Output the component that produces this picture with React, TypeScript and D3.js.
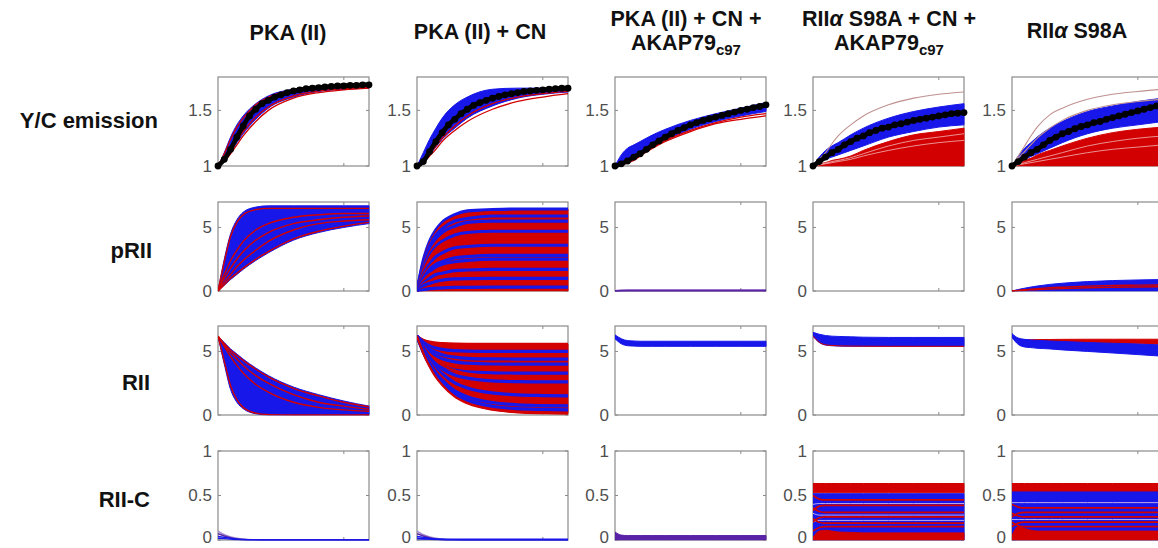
import React from "react";
import * as d3 from "d3";

// ---------- shared time grids ----------
const TIME = [0, 50, 100, 150, 200, 300, 400, 600, 800, 1000, 1200];
const DOT_TIME = [0, 50, 100, 150, 200, 250, 300, 350, 400, 450, 500, 550, 600, 650, 700, 750, 800, 850, 900, 950, 1000, 1050, 1100, 1150, 1200];
const ZEROS = [0, 0, 0, 0, 0, 0, 0, 0, 0, 0, 0];
const ONES = [1, 1, 1, 1, 1, 1, 1, 1, 1, 1, 1];

const COLUMN_TITLES = [["PKA (II)"], ["PKA (II) + CN"], ["PKA (II) + CN +", "AKAP79|c97"], ["RIIα S98A + CN +", "AKAP79|c97"], ["RIIα S98A"]];
const ROW_TITLES = ["Y/C emission", "pRII", "RII", "RII-C"];
const Y_DOMAINS = [[1, 1.8], [0, 7], [0, 7], [0, 1]];
const Y_TICKS = [[1, 1.5], [0, 5], [0, 5], [0, 0.5, 1]];
const X_DOMAIN = [0, 1200];
const X_TICKS = [1000];

// ---------- Row 1: Y/C emission ----------
const ycDotsPka = [1.0, 1.06, 1.15, 1.26, 1.36, 1.45, 1.51, 1.56, 1.59, 1.62, 1.64, 1.66, 1.675, 1.685, 1.695, 1.7, 1.705, 1.71, 1.715, 1.72, 1.72, 1.725, 1.725, 1.73, 1.73];
const ycDotsCn = [1.0, 1.04, 1.13, 1.22, 1.3, 1.37, 1.42, 1.47, 1.51, 1.545, 1.57, 1.59, 1.61, 1.625, 1.64, 1.65, 1.66, 1.67, 1.675, 1.68, 1.685, 1.69, 1.695, 1.7, 1.7];
const ycDotsAkap = [1.0, 1.02, 1.045, 1.08, 1.11, 1.15, 1.19, 1.225, 1.26, 1.29, 1.32, 1.345, 1.37, 1.39, 1.41, 1.425, 1.44, 1.455, 1.47, 1.485, 1.5, 1.51, 1.525, 1.535, 1.55];
const ycDotsMutAkap = [1.0, 1.04, 1.08, 1.12, 1.15, 1.19, 1.22, 1.25, 1.27, 1.3, 1.32, 1.34, 1.35, 1.37, 1.38, 1.395, 1.41, 1.42, 1.43, 1.44, 1.45, 1.46, 1.47, 1.475, 1.48];
const ycDotsMut = [1.0, 1.04, 1.08, 1.12, 1.15, 1.19, 1.23, 1.26, 1.29, 1.31, 1.335, 1.355, 1.37, 1.39, 1.4, 1.42, 1.435, 1.45, 1.465, 1.48, 1.495, 1.51, 1.525, 1.54, 1.55];

const ycPkaBandHi = [1, 1.12, 1.26, 1.37, 1.45, 1.56, 1.63, 1.69, 1.71, 1.72, 1.72];
const ycPkaBandLo = [1, 1.05, 1.12, 1.21, 1.29, 1.42, 1.52, 1.62, 1.67, 1.69, 1.7];
const ycPkaRed = [
  [1, 1.04, 1.11, 1.19, 1.27, 1.4, 1.5, 1.61, 1.66, 1.685, 1.7],
  [1, 1.06, 1.14, 1.23, 1.31, 1.44, 1.53, 1.63, 1.675, 1.695, 1.705],
  [1, 1.11, 1.24, 1.35, 1.43, 1.55, 1.62, 1.685, 1.705, 1.715, 1.72],
];

const ycCnBandHi = [1, 1.12, 1.24, 1.34, 1.43, 1.55, 1.62, 1.69, 1.7, 1.7, 1.71];
const ycCnBandLo = [1, 1.04, 1.1, 1.17, 1.24, 1.34, 1.43, 1.54, 1.61, 1.645, 1.665];
const ycCnRed = [
  [1, 1.03, 1.09, 1.15, 1.22, 1.32, 1.4, 1.51, 1.58, 1.62, 1.65],
  [1, 1.04, 1.11, 1.18, 1.25, 1.36, 1.45, 1.56, 1.62, 1.65, 1.67],
  [1, 1.06, 1.14, 1.22, 1.3, 1.42, 1.51, 1.61, 1.66, 1.68, 1.69],
];

const ycAkapBandHi = [1, 1.1, 1.16, 1.19, 1.22, 1.28, 1.33, 1.41, 1.47, 1.52, 1.57];
const ycAkapBandLo = [1, 1.02, 1.04, 1.07, 1.1, 1.17, 1.23, 1.33, 1.4, 1.45, 1.49];
const ycAkapRed = [
  [1, 1.01, 1.03, 1.05, 1.09, 1.16, 1.22, 1.31, 1.38, 1.42, 1.45],
  [1, 1.02, 1.04, 1.07, 1.1, 1.17, 1.23, 1.32, 1.39, 1.44, 1.47],
];

const ycMutAkapRedTop = [1, 1.02, 1.03, 1.05, 1.06, 1.09, 1.14, 1.22, 1.28, 1.31, 1.34];
const ycMutAkapBandHi = [1, 1.08, 1.14, 1.18, 1.21, 1.28, 1.34, 1.43, 1.49, 1.53, 1.56];
const ycMutAkapBandLo = [1, 1.03, 1.06, 1.08, 1.1, 1.14, 1.18, 1.26, 1.31, 1.35, 1.37];
const ycMutAkapOutliers = [[1, 1.06, 1.12, 1.2, 1.27, 1.37, 1.45, 1.55, 1.61, 1.645, 1.665]];
const ycMutAkapStreaks = [
  [1, 1.015, 1.025, 1.04, 1.05, 1.075, 1.11, 1.18, 1.23, 1.26, 1.29],
  [1, 1.01, 1.02, 1.03, 1.04, 1.06, 1.09, 1.14, 1.18, 1.21, 1.23],
];

const ycMutRedTop = [1, 1.02, 1.05, 1.07, 1.1, 1.14, 1.18, 1.25, 1.3, 1.33, 1.35];
const ycMutBandHi = [1, 1.09, 1.16, 1.21, 1.26, 1.34, 1.4, 1.49, 1.54, 1.58, 1.61];
const ycMutBandLo = [1, 1.03, 1.06, 1.085, 1.11, 1.16, 1.21, 1.29, 1.34, 1.37, 1.4];
const ycMutOutliers = [
  [1, 1.09, 1.18, 1.27, 1.35, 1.46, 1.52, 1.6, 1.645, 1.67, 1.69],
  [1, 1.07, 1.13, 1.19, 1.25, 1.34, 1.41, 1.5, 1.55, 1.58, 1.6],
];
const ycMutStreaks = [
  [1, 1.015, 1.03, 1.045, 1.06, 1.09, 1.12, 1.18, 1.22, 1.25, 1.27],
  [1, 1.01, 1.02, 1.03, 1.04, 1.06, 1.08, 1.12, 1.15, 1.17, 1.19],
];

// ---------- Row 2: pRII ----------
const prPkaBandHi = [0, 2.5, 4.5, 5.6, 6.2, 6.6, 6.7, 6.7, 6.7, 6.7, 6.7];
const prPkaBandLo = [0, 0.45, 0.9, 1.3, 1.7, 2.4, 3.0, 4.0, 4.6, 5.0, 5.3];
const prPkaRed = [
  [0, 0.5, 1.0, 1.4, 1.8, 2.5, 3.1, 4.1, 4.7, 5.1, 5.4],
  [0, 0.7, 1.3, 1.9, 2.4, 3.2, 3.9, 4.8, 5.3, 5.5, 5.6],
  [0, 1.0, 1.8, 2.5, 3.1, 4.0, 4.6, 5.3, 5.6, 5.8, 5.9],
  [0, 1.3, 2.4, 3.2, 3.9, 4.8, 5.3, 5.8, 6.0, 6.1, 6.1],
  [0, 2.3, 4.3, 5.4, 6.0, 6.4, 6.5, 6.5, 6.5, 6.5, 6.5],
];

const prCnKinds = ["b", "r", "b", "b", "r", "b", "r", "r", "b", "r", "b", "b", "r", "b", "r", "b", "r", "b"];
const prCnTraces = [
  [0, 2.4, 3.9, 4.8, 5.4, 6.0, 6.3, 6.4, 6.45, 6.45, 6.45],
  [0, 2.3, 3.7, 4.6, 5.2, 5.8, 6.0, 6.2, 6.2, 6.2, 6.2],
  [0, 2.2, 3.5, 4.4, 4.9, 5.5, 5.7, 5.9, 5.9, 5.9, 5.9],
  [0, 2.0, 3.3, 4.1, 4.6, 5.1, 5.4, 5.5, 5.5, 5.5, 5.5],
  [0, 1.9, 3.0, 3.8, 4.3, 4.8, 5.0, 5.1, 5.1, 5.1, 5.1],
  [0, 1.7, 2.8, 3.5, 3.9, 4.4, 4.6, 4.7, 4.7, 4.7, 4.7],
  [0, 1.6, 2.6, 3.3, 3.7, 4.1, 4.3, 4.4, 4.4, 4.4, 4.4],
  [0, 1.5, 2.4, 3.0, 3.4, 3.7, 3.9, 4.0, 4.0, 4.0, 4.0],
  [0, 1.3, 2.1, 2.7, 3.0, 3.4, 3.5, 3.6, 3.6, 3.6, 3.6],
  [0, 1.2, 1.9, 2.4, 2.7, 3.0, 3.1, 3.2, 3.2, 3.2, 3.2],
  [0, 1.0, 1.7, 2.1, 2.3, 2.6, 2.7, 2.8, 2.8, 2.8, 2.8],
  [0, 0.9, 1.5, 1.9, 2.1, 2.3, 2.4, 2.5, 2.5, 2.5, 2.5],
  [0, 0.8, 1.3, 1.6, 1.8, 2.0, 2.05, 2.1, 2.1, 2.1, 2.1],
  [0, 0.6, 1.0, 1.3, 1.4, 1.6, 1.65, 1.7, 1.7, 1.7, 1.7],
  [0, 0.5, 0.8, 1.0, 1.1, 1.2, 1.25, 1.3, 1.3, 1.3, 1.3],
  [0, 0.4, 0.6, 0.75, 0.85, 0.95, 0.98, 1.0, 1.0, 1.0, 1.0],
  [0, 0.2, 0.35, 0.45, 0.5, 0.56, 0.58, 0.6, 0.6, 0.6, 0.6],
  [0, 0.1, 0.18, 0.22, 0.25, 0.28, 0.29, 0.3, 0.3, 0.3, 0.3],
];

const prAkapTraces = [
  [0, 0.02, 0.03, 0.03, 0.03, 0.03, 0.03, 0.03, 0.03, 0.03, 0.03],
  [0, 0.01, 0.015, 0.015, 0.015, 0.015, 0.015, 0.015, 0.015, 0.015, 0.015],
];

const prMutBandHi = [0, 0.12, 0.22, 0.31, 0.39, 0.52, 0.61, 0.74, 0.82, 0.87, 0.9];
const prMutRed = [
  [0, 0.05, 0.1, 0.14, 0.18, 0.25, 0.3, 0.38, 0.43, 0.46, 0.48],
  [0, 0.03, 0.06, 0.09, 0.11, 0.15, 0.19, 0.25, 0.29, 0.32, 0.34],
];

// ---------- Row 3: RII ----------
const riiPkaBandHi = [6.2, 5.7, 5.2, 4.8, 4.4, 3.7, 3.1, 2.2, 1.6, 1.1, 0.7];
const riiPkaBandLo = [6.2, 4.0, 2.0, 1.0, 0.5, 0.1, 0, 0, 0, 0, 0];
const riiPkaRed = [
  [6.2, 5.6, 5.1, 4.7, 4.3, 3.6, 3.0, 2.1, 1.5, 1.0, 0.65],
  [6.2, 5.5, 4.9, 4.4, 3.9, 3.1, 2.5, 1.6, 1.0, 0.7, 0.45],
  [6.2, 5.4, 4.6, 3.9, 3.3, 2.4, 1.8, 1.0, 0.6, 0.4, 0.3],
  [6.2, 4.2, 2.3, 1.2, 0.6, 0.15, 0.03, 0, 0, 0, 0],
];

const riiCnKinds = ["r", "r", "b", "r", "b", "b", "r", "b", "r", "b", "r", "r", "b", "r", "b", "b", "r"];
const riiCnTraces = [
  [6.2, 5.92, 5.77, 5.69, 5.65, 5.61, 5.6, 5.6, 5.6, 5.6, 5.6],
  [6.2, 5.78, 5.56, 5.44, 5.37, 5.32, 5.31, 5.3, 5.3, 5.3, 5.3],
  [6.2, 5.73, 5.44, 5.26, 5.16, 5.06, 5.02, 5.0, 5.0, 5.0, 5.0],
  [6.2, 5.62, 5.26, 5.03, 4.9, 4.78, 4.73, 4.7, 4.7, 4.7, 4.7],
  [6.2, 5.59, 5.18, 4.92, 4.74, 4.55, 4.46, 4.41, 4.4, 4.4, 4.4],
  [6.2, 5.45, 4.96, 4.63, 4.42, 4.18, 4.08, 4.01, 4.0, 4.0, 4.0],
  [6.2, 5.35, 4.79, 4.42, 4.17, 3.91, 3.79, 3.72, 3.7, 3.7, 3.7],
  [6.2, 5.21, 4.56, 4.13, 3.85, 3.54, 3.4, 3.32, 3.3, 3.3, 3.3],
  [6.2, 5.34, 4.71, 4.25, 3.92, 3.49, 3.26, 3.08, 3.02, 3.0, 3.0],
  [6.2, 5.23, 4.53, 4.0, 3.63, 3.15, 2.9, 2.68, 2.62, 2.6, 2.6],
  [6.2, 5.12, 4.34, 3.76, 3.35, 2.81, 2.53, 2.29, 2.23, 2.21, 2.2],
  [6.2, 5.04, 4.2, 3.58, 3.13, 2.56, 2.25, 2.0, 1.93, 1.91, 1.9],
  [6.2, 5.17, 4.37, 3.71, 3.24, 2.53, 2.13, 1.74, 1.58, 1.53, 1.51],
  [6.2, 5.08, 4.21, 3.5, 2.99, 2.22, 1.79, 1.36, 1.19, 1.14, 1.11],
  [6.2, 4.99, 4.06, 3.29, 2.74, 1.91, 1.44, 0.98, 0.8, 0.74, 0.71],
  [6.2, 4.92, 3.94, 3.13, 2.55, 1.68, 1.18, 0.69, 0.5, 0.44, 0.41],
  [6.2, 4.86, 3.82, 2.97, 2.36, 1.44, 0.92, 0.41, 0.21, 0.14, 0.11],
];

const riiAkapBandHi = [6.3, 6.0, 5.85, 5.82, 5.8, 5.8, 5.8, 5.8, 5.8, 5.8, 5.8];
const riiAkapBandLo = [6.0, 5.6, 5.45, 5.42, 5.4, 5.4, 5.4, 5.4, 5.4, 5.4, 5.4];

const riiMutAkapBandHi = [6.5, 6.35, 6.25, 6.2, 6.18, 6.15, 6.12, 6.1, 6.1, 6.1, 6.1];
const riiMutAkapBandLo = [6.2, 5.7, 5.5, 5.45, 5.42, 5.4, 5.4, 5.4, 5.4, 5.4, 5.4];
const riiMutAkapRed = [[6.2, 5.72, 5.52, 5.47, 5.44, 5.42, 5.41, 5.4, 5.4, 5.4, 5.4]];

const riiMutRedHi = [6.3, 5.95, 5.92, 5.92, 5.93, 5.94, 5.95, 5.96, 5.96, 5.96, 5.96];
const riiMutRedLo = [6.2, 5.85, 5.8, 5.78, 5.76, 5.74, 5.72, 5.68, 5.64, 5.6, 5.55];
const riiMutBandHi = [6.4, 6.05, 5.95, 5.9, 5.87, 5.82, 5.78, 5.7, 5.64, 5.58, 5.5];
const riiMutBandLo = [6.1, 5.55, 5.35, 5.3, 5.25, 5.2, 5.12, 5.0, 4.88, 4.75, 4.62];

// ---------- Row 4: RII-C ----------
const rcPkaKinds = ["l", "p", "b", "b"];
const rcPkaTraces = [
  [0.1, 0.06, 0.035, 0.02, 0.01, 0.003, 0, 0, 0, 0, 0],
  [0.07, 0.045, 0.025, 0.012, 0.006, 0.002, 0, 0, 0, 0, 0],
  [0.04, 0.03, 0.018, 0.01, 0.005, 0.001, 0, 0, 0, 0, 0],
  [0.02, 0.015, 0.01, 0.005, 0.002, 0, 0, 0, 0, 0, 0],
];
const rcCnKinds = ["l", "p", "b", "b", "b"];
const rcCnTraces = [
  [0.1, 0.06, 0.035, 0.02, 0.01, 0.003, 0, 0, 0, 0, 0],
  [0.07, 0.045, 0.025, 0.012, 0.006, 0.002, 0, 0, 0, 0, 0],
  [0.04, 0.03, 0.018, 0.01, 0.005, 0.001, 0, 0, 0, 0, 0],
  [0.02, 0.015, 0.01, 0.005, 0.002, 0, 0, 0, 0, 0, 0],
  [0.015, 0.012, 0.01, 0.01, 0.01, 0.01, 0.01, 0.01, 0.01, 0.01, 0.01],
];
const rcAkapBandHi = [0.09, 0.055, 0.05, 0.05, 0.05, 0.05, 0.05, 0.05, 0.05, 0.05, 0.05];

const rcMutAkapRedHi = [0.635, 0.635, 0.635, 0.635, 0.635, 0.635, 0.635, 0.635, 0.635, 0.635, 0.635];
const rcMutAkapRedLo = [0.53, 0.53, 0.53, 0.53, 0.53, 0.53, 0.53, 0.53, 0.53, 0.53, 0.53];
const rcMutAkapBlueHi = [0.52, 0.52, 0.52, 0.52, 0.52, 0.52, 0.52, 0.52, 0.52, 0.52, 0.52];
const rcMutAkapFloor = [0.03, 0.1, 0.11, 0.1, 0.09, 0.085, 0.08, 0.08, 0.08, 0.08, 0.08];
const rcMutAkapRed = [
  [0.5, 0.46, 0.45, 0.45, 0.45, 0.45, 0.45, 0.45, 0.45, 0.45, 0.45],
  [0.33, 0.38, 0.39, 0.39, 0.39, 0.39, 0.39, 0.39, 0.39, 0.39, 0.39],
  [0.36, 0.32, 0.31, 0.31, 0.31, 0.31, 0.31, 0.31, 0.31, 0.31, 0.31],
  [0.2, 0.25, 0.26, 0.26, 0.26, 0.26, 0.26, 0.26, 0.26, 0.26, 0.26],
  [0.24, 0.2, 0.19, 0.19, 0.19, 0.19, 0.19, 0.19, 0.19, 0.19, 0.19],
  [0.1, 0.14, 0.15, 0.15, 0.15, 0.15, 0.15, 0.15, 0.15, 0.15, 0.15],
];
const rcMutAkapStreaks = [
  [0.3, 0.28, 0.28, 0.28, 0.28, 0.28, 0.28, 0.28, 0.28, 0.28, 0.28],
  [0.2, 0.22, 0.22, 0.22, 0.22, 0.22, 0.22, 0.22, 0.22, 0.22, 0.22],
  [0.4, 0.41, 0.41, 0.41, 0.41, 0.41, 0.41, 0.41, 0.41, 0.41, 0.41],
];

const rcMutRedHi = [0.635, 0.635, 0.635, 0.635, 0.635, 0.635, 0.635, 0.635, 0.635, 0.635, 0.635];
const rcMutRedLo = [0.54, 0.54, 0.54, 0.54, 0.54, 0.54, 0.54, 0.54, 0.54, 0.54, 0.54];
const rcMutBlueHi = [0.54, 0.54, 0.54, 0.54, 0.54, 0.54, 0.54, 0.54, 0.54, 0.54, 0.54];
const rcMutFloor = [0.05, 0.15, 0.13, 0.11, 0.1, 0.1, 0.1, 0.1, 0.1, 0.1, 0.1];
const rcMutRed = [
  [0.4, 0.37, 0.36, 0.36, 0.36, 0.36, 0.36, 0.36, 0.36, 0.36, 0.36],
  [0.26, 0.3, 0.31, 0.31, 0.31, 0.31, 0.31, 0.31, 0.31, 0.31, 0.31],
  [0.3, 0.27, 0.26, 0.26, 0.26, 0.26, 0.26, 0.26, 0.26, 0.26, 0.26],
  [0.15, 0.19, 0.2, 0.2, 0.2, 0.2, 0.2, 0.2, 0.2, 0.2, 0.2],
  [0.2, 0.16, 0.15, 0.15, 0.15, 0.15, 0.15, 0.15, 0.15, 0.15, 0.15],
];
const rcMutStreaks = [
  [0.42, 0.42, 0.42, 0.42, 0.42, 0.42, 0.42, 0.42, 0.42, 0.42, 0.42],
  [0.23, 0.23, 0.23, 0.23, 0.23, 0.23, 0.23, 0.23, 0.23, 0.23, 0.23],
];

// ---------- styling & layout ----------
const COLORS: Record<string, string> = {
  r: "#d20000",
  b: "#1717ea",
  p: "#5a22a6",
  l: "#a08ccc",
  n: "#c09090",
  s: "#f2b8b8",
  v: "#b9a8ee",
};
const AXIS = "#8a8a8a";
const COL_X = [218, 417, 615, 813, 1012];
const ROW_Y = [77, 202, 326, 451];
const PANEL_W = 151;
const PANEL_H = 89;
const SVG_W = 1158;
const SVG_H = 548;

type Band = { c: string; lo: number[]; hi: number[] };
type Trace = { c: string; v: number[]; w: number };
type Panel = { row: number; col: number; bands: Band[]; traces: Trace[]; dots?: number[] };

const tr = (c: string, list: number[][], w: number): Trace[] => list.map((v) => ({ c, v, w }));
const trKinds = (kinds: string[], list: number[][], wb: number, wr: number): Trace[] =>
  list.map((v, i) => ({ c: kinds[i], v, w: kinds[i] === "b" ? wb : wr }));

const PANELS: Panel[] = [
  { row: 0, col: 0, bands: [{ c: "b", lo: ycPkaBandLo, hi: ycPkaBandHi }], traces: tr("r", ycPkaRed, 1.3), dots: ycDotsPka },
  { row: 0, col: 1, bands: [{ c: "b", lo: ycCnBandLo, hi: ycCnBandHi }], traces: tr("r", ycCnRed, 1.3), dots: ycDotsCn },
  { row: 0, col: 2, bands: [{ c: "b", lo: ycAkapBandLo, hi: ycAkapBandHi }], traces: tr("r", ycAkapRed, 1.3), dots: ycDotsAkap },
  {
    row: 0, col: 3,
    bands: [{ c: "r", lo: ONES, hi: ycMutAkapRedTop }, { c: "b", lo: ycMutAkapBandLo, hi: ycMutAkapBandHi }],
    traces: [...tr("s", ycMutAkapStreaks, 0.8), ...tr("n", ycMutAkapOutliers, 1.1)],
    dots: ycDotsMutAkap,
  },
  {
    row: 0, col: 4,
    bands: [{ c: "r", lo: ONES, hi: ycMutRedTop }, { c: "b", lo: ycMutBandLo, hi: ycMutBandHi }],
    traces: [...tr("s", ycMutStreaks, 0.8), ...tr("n", ycMutOutliers, 1.1)],
    dots: ycDotsMut,
  },
  { row: 1, col: 0, bands: [{ c: "b", lo: prPkaBandLo, hi: prPkaBandHi }], traces: tr("r", prPkaRed, 1.4) },
  { row: 1, col: 1, bands: [{ c: "r", lo: ZEROS, hi: prCnTraces[0] }], traces: trKinds(prCnKinds, prCnTraces, 3.2, 2.2) },
  { row: 1, col: 2, bands: [], traces: tr("p", prAkapTraces, 2) },
  { row: 1, col: 3, bands: [], traces: [] },
  { row: 1, col: 4, bands: [{ c: "b", lo: ZEROS, hi: prMutBandHi }], traces: tr("r", prMutRed, 1.4) },
  { row: 2, col: 0, bands: [{ c: "b", lo: riiPkaBandLo, hi: riiPkaBandHi }], traces: tr("r", riiPkaRed, 1.4) },
  {
    row: 2, col: 1,
    bands: [{ c: "r", lo: riiCnTraces[riiCnTraces.length - 1], hi: riiCnTraces[0] }],
    traces: trKinds(riiCnKinds, riiCnTraces, 3.2, 2.2),
  },
  { row: 2, col: 2, bands: [{ c: "b", lo: riiAkapBandLo, hi: riiAkapBandHi }], traces: [] },
  { row: 2, col: 3, bands: [{ c: "b", lo: riiMutAkapBandLo, hi: riiMutAkapBandHi }], traces: tr("r", riiMutAkapRed, 1) },
  {
    row: 2, col: 4,
    bands: [{ c: "r", lo: riiMutRedLo, hi: riiMutRedHi }, { c: "b", lo: riiMutBandLo, hi: riiMutBandHi }],
    traces: [],
  },
  { row: 3, col: 0, bands: [], traces: trKinds(rcPkaKinds, rcPkaTraces, 1.4, 1.4) },
  { row: 3, col: 1, bands: [], traces: trKinds(rcCnKinds, rcCnTraces, 1.4, 1.4) },
  { row: 3, col: 2, bands: [{ c: "p", lo: ZEROS, hi: rcAkapBandHi }], traces: [] },
  {
    row: 3, col: 3,
    bands: [
      { c: "r", lo: rcMutAkapRedLo, hi: rcMutAkapRedHi },
      { c: "b", lo: ZEROS, hi: rcMutAkapBlueHi },
      { c: "r", lo: ZEROS, hi: rcMutAkapFloor },
    ],
    traces: [...tr("v", rcMutAkapStreaks, 1), ...tr("r", rcMutAkapRed, 1.7)],
  },
  {
    row: 3, col: 4,
    bands: [
      { c: "r", lo: rcMutRedLo, hi: rcMutRedHi },
      { c: "b", lo: ZEROS, hi: rcMutBlueHi },
      { c: "r", lo: ZEROS, hi: rcMutFloor },
    ],
    traces: [...tr("v", rcMutStreaks, 1), ...tr("r", rcMutRed, 1.7)],
  },
];

function PanelView({ p, idx }: { p: Panel; idx: number }) {
  const x0 = COL_X[p.col];
  const y0 = ROW_Y[p.row];
  const xs = d3.scaleLinear().domain(X_DOMAIN).range([x0, x0 + PANEL_W]);
  const ys = d3.scaleLinear().domain(Y_DOMAINS[p.row]).range([y0 + PANEL_H, y0]);
  const line = d3
    .line<number>()
    .x((_, i) => xs(TIME[i]))
    .y((d) => ys(d))
    .curve(d3.curveMonotoneX);
  const dotLine = d3
    .line<number>()
    .x((_, i) => xs(DOT_TIME[i]))
    .y((d) => ys(d))
    .curve(d3.curveMonotoneX);
  const clipId = `clip-${idx}`;
  return (
    <g>
      <defs>
        <clipPath id={clipId}>
          <rect x={x0} y={y0 - 1} width={PANEL_W + 1} height={PANEL_H + 1.5} />
        </clipPath>
      </defs>
      <rect x={x0} y={y0} width={PANEL_W} height={PANEL_H} fill="none" stroke={AXIS} strokeWidth={1.2} />
      {Y_TICKS[p.row].map((t) => (
        <g key={`yt${t}`}>
          <line x1={x0} x2={x0 + 3} y1={ys(t)} y2={ys(t)} stroke={AXIS} strokeWidth={1} />
          <line x1={x0 + PANEL_W - 3} x2={x0 + PANEL_W} y1={ys(t)} y2={ys(t)} stroke={AXIS} strokeWidth={1} />
          <text x={x0 - 6} y={Math.min(ys(t), SVG_H - 11)} dy="0.34em" textAnchor="end" fontSize={17} fill="#4f4f4f">
            {String(t)}
          </text>
        </g>
      ))}
      {X_TICKS.map((t) => (
        <g key={`xt${t}`}>
          <line x1={xs(t)} x2={xs(t)} y1={y0} y2={y0 + 3} stroke={AXIS} strokeWidth={1} />
          <line x1={xs(t)} x2={xs(t)} y1={y0 + PANEL_H - 3} y2={y0 + PANEL_H} stroke={AXIS} strokeWidth={1} />
        </g>
      ))}
      <g clipPath={`url(#${clipId})`}>
        {p.bands.map((b, i) => {
          const area = d3
            .area<number>()
            .x((_, j) => xs(TIME[j]))
            .y0((_, j) => ys(b.lo[j]))
            .y1((d) => ys(d))
            .curve(d3.curveMonotoneX);
          return <path key={`b${i}`} d={area(b.hi) || ""} fill={COLORS[b.c]} stroke={COLORS[b.c]} strokeWidth={1} />;
        })}
        {p.traces.map((t, i) => (
          <path key={`t${i}`} d={line(t.v) || ""} fill="none" stroke={COLORS[t.c]} strokeWidth={t.w} strokeLinejoin="round" />
        ))}
      </g>
      {p.dots && (
        <g>
          <path d={dotLine(p.dots) || ""} fill="none" stroke="#000" strokeWidth={4.6} strokeLinecap="round" />
          {p.dots.map((v, i) => (
            <circle key={`d${i}`} cx={xs(DOT_TIME[i])} cy={ys(v)} r={3.4} fill="#000" />
          ))}
        </g>
      )}
    </g>
  );
}

const TITLE_POS = [
  { x: 288, y: [40] },
  { x: 480, y: [39] },
  { x: 686, y: [26, 50] },
  { x: 889, y: [26, 50] },
  { x: 1077, y: [38] },
];
const ROW_LABEL_POS = [
  { x: 158, y: 128 },
  { x: 152, y: 258 },
  { x: 150, y: 390 },
  { x: 150, y: 507 },
];

function TitleLine({ text, x, y }: { text: string; x: number; y: number }) {
  const [main, sub] = text.split("|");
  const parts = main.split("α");
  return (
    <text x={x} y={y} textAnchor="middle" fontSize={21.5} fontWeight="bold" fill="#111">
      {parts.length > 1 ? (
        <>
          {parts[0]}
          <tspan fontStyle="italic">α</tspan>
          {parts[1]}
        </>
      ) : (
        main
      )}
      {sub && (
        <tspan fontSize={15} dy={5}>
          {sub}
        </tspan>
      )}
    </text>
  );
}

export default function App() {
  return (
    <svg
      width={SVG_W}
      height={SVG_H}
      style={{ position: "absolute", left: 0, top: 0, background: "#fff" }}
      fontFamily="'Liberation Sans', Arial, Helvetica, sans-serif"
    >
      <rect x={0} y={0} width={SVG_W} height={SVG_H} fill="#fff" />
      {COLUMN_TITLES.map((lines, ci) =>
        lines.map((txt, li) => <TitleLine key={`${ci}-${li}`} text={txt} x={TITLE_POS[ci].x} y={TITLE_POS[ci].y[li]} />)
      )}
      {ROW_TITLES.map((t, ri) => (
        <text key={t} x={ROW_LABEL_POS[ri].x} y={ROW_LABEL_POS[ri].y} textAnchor="end" fontSize={22} fontWeight="bold" fill="#111">
          {t}
        </text>
      ))}
      {PANELS.map((p, i) => (
        <PanelView key={i} p={p} idx={i} />
      ))}
    </svg>
  );
}
